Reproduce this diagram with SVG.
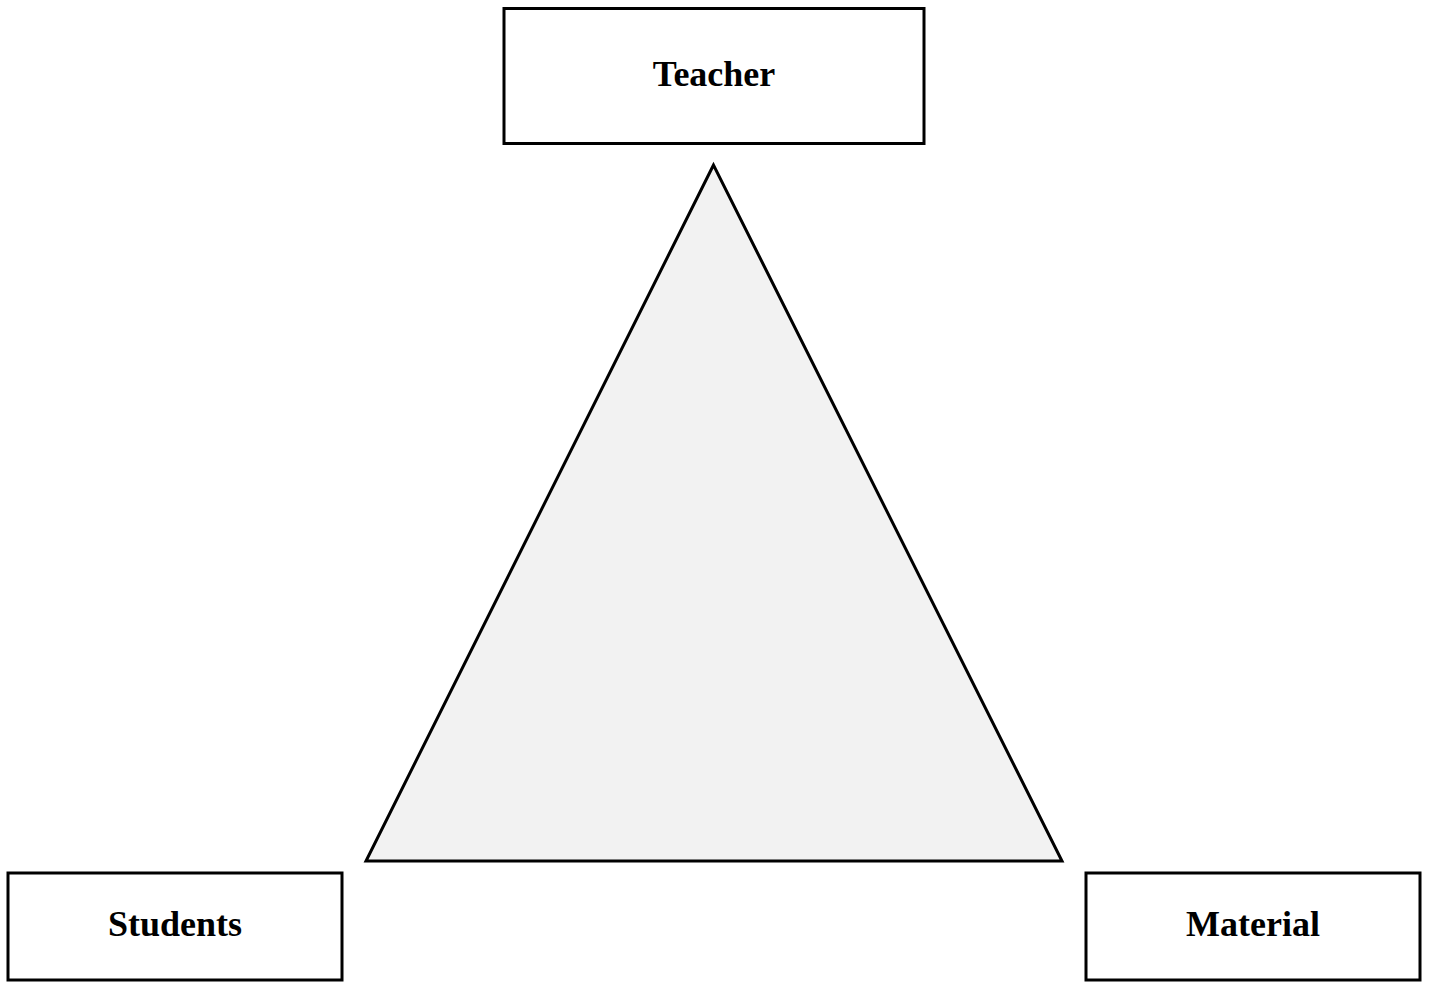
<svg xmlns="http://www.w3.org/2000/svg" width="1429" height="989" viewBox="0 0 1429 989">
<style>
.box{fill:#ffffff;stroke:#000000;stroke-width:3}
.lbl{font-family:"Liberation Serif","Times New Roman",serif;font-weight:bold;font-size:36px;fill:#000000;text-anchor:middle}
.tri{fill:#f2f2f2;stroke:#000000;stroke-width:3;stroke-linejoin:miter}
</style>
<rect width="1429" height="989" fill="#ffffff"/>
<g id="connectors">
<polygon id="triangle" class="tri" points="713.5,165 366,861 1062,861"/>
</g>
<g id="teacher">
<rect class="box" x="504" y="8.5" width="420" height="135"/>
<text class="lbl" x="714" y="86">Teacher</text>
</g>
<g id="students">
<rect class="box" x="8" y="873" width="334" height="107"/>
<text class="lbl" x="175" y="936">Students</text>
</g>
<g id="material">
<rect class="box" x="1086" y="873" width="334" height="107"/>
<text class="lbl" x="1253" y="936">Material</text>
</g>
</svg>
